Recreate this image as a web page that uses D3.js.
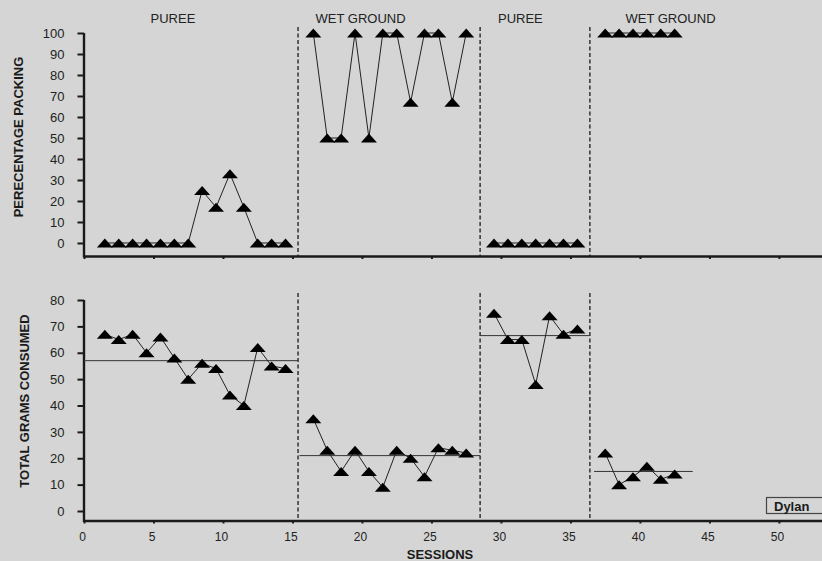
<!DOCTYPE html>
<html>
<head>
<meta charset="utf-8">
<script src="https://cdn.jsdelivr.net/npm/d3@7"></script>
<style>
  html, body { margin: 0; padding: 0; background: #d4d5d4; }
  svg { display: block; font-family: "Liberation Sans", Arial, sans-serif; }
</style>
</head>
<body>
<svg id="chart" width="822" height="561"></svg>
<script>
// phase info
const phaseNames = ["PUREE", "WET GROUND", "PUREE", "WET GROUND"];
const phaseLabelAt = [6.4, 19.9, 31.4, 42.2];
const phaseChanges = [15.4, 28.5, 36.4];

// sessions per phase (plotted at category centre)
const sessionsP1 = [1, 2, 3, 4, 5, 6, 7, 8, 9, 10, 11, 12, 13, 14];
const sessionsW1 = [16, 17, 18, 19, 20, 21, 22, 23, 24, 25, 26, 27];
const sessionsP2 = [29, 30, 31, 32, 33, 34, 35];
const sessionsW2 = [37, 38, 39, 40, 41, 42];

// percentage packing
const packingP1 = [0, 0, 0, 0, 0, 0, 0, 25, 17, 33, 17, 0, 0, 0];
const packingW1 = [100, 50, 50, 100, 50, 100, 100, 67, 100, 100, 67, 100];
const packingP2 = [0, 0, 0, 0, 0, 0, 0];
const packingW2 = [100, 100, 100, 100, 100, 100];

// total grams consumed
const gramsP1 = [67, 65, 67, 60, 66, 58, 50, 56, 54, 44, 40, 62, 55, 54];
const gramsW1 = [35, 23, 15, 23, 15, 9, 23, 20, 13, 24, 23, 22];
const gramsP2 = [75, 65, 65, 48, 74, 67, 69];
const gramsW2 = [22, 10, 13, 17, 12, 14];

// phase means of grams and the session span each mean line covers
const gramsMeans = [57, 21, 66.5, 15];
const meanFrom = [0, 15.5, 28.5, 36.7];
const meanTo = [15.4, 28.5, 36.4, 43.8];

const xTicks = [0, 5, 10, 15, 20, 25, 30, 35, 40, 45, 50];
const packingTicks = [0, 10, 20, 30, 40, 50, 60, 70, 80, 90, 100];
const gramsTicks = [0, 10, 20, 30, 40, 50, 60, 70, 80];

const svg = d3.select("#chart");
const ink = "#1a1a1a";

const x = d3.scaleLinear().domain([0, 53.1]).range([84, 822]);
const yTop = d3.scaleLinear().domain([-6.2, 100]).range([256, 33]);
const yBot = d3.scaleLinear().domain([-3.6, 80]).range([520.5, 300]);

const triangle = "M-8,4.5L0,-4.5L8,4.5Z";

function zip(sessions, values) {
  return sessions.map((s, i) => ({ s: s + 0.5, v: values[i] }));
}

function drawPanel(y, ticks, series, opts) {
  const g = svg.append("g");

  // phase change lines
  g.selectAll(".phase")
    .data(phaseChanges)
    .join("line")
    .attr("x1", d => x(d)).attr("x2", d => x(d))
    .attr("y1", opts.dashTop).attr("y2", y.range()[0])
    .attr("stroke", ink).attr("stroke-width", 1.3)
    .attr("stroke-dasharray", "4,2.5");

  // y axis
  const yAxis = g.append("g")
    .attr("transform", `translate(${x(0)},0)`)
    .call(d3.axisLeft(y).tickValues(ticks).tickSize(6.5).tickSizeOuter(0).tickPadding(13));
  yAxis.select(".domain").attr("stroke", ink).attr("stroke-width", 2.4)
    .attr("d", `M0,${y.range()[1]}V${y.range()[0] + 1.5}`);
  yAxis.selectAll(".tick line").attr("stroke", ink).attr("stroke-width", 2);
  yAxis.selectAll(".tick text").attr("font-size", 13).attr("fill", "#222")
    .attr("font-family", "Liberation Sans, Arial, sans-serif");

  // x axis
  const xAxis = g.append("g")
    .attr("transform", `translate(0,${y.range()[0]})`)
    .call(d3.axisBottom(x).tickValues(xTicks).tickSize(3).tickSizeOuter(0)
      .tickFormat(opts.showX ? d3.format("d") : ""));
  xAxis.select(".domain").attr("stroke", ink).attr("stroke-width", 2.4);
  xAxis.selectAll(".tick line").attr("stroke", ink).attr("stroke-width", 2);
  xAxis.selectAll(".tick text").attr("font-size", 12).attr("fill", "#222")
    .attr("font-family", "Liberation Sans, Arial, sans-serif")
    .attr("x", -2).attr("y", 12).attr("dy", "0.71em");

  // mean lines
  if (opts.means) {
    g.selectAll(".mean")
      .data(opts.means)
      .join("line")
      .attr("x1", (d, i) => x(meanFrom[i])).attr("x2", (d, i) => x(meanTo[i]))
      .attr("y1", d => y(d)).attr("y2", d => y(d))
      .attr("stroke", "#333").attr("stroke-width", 1);
  }

  const line = d3.line().x(d => x(d.s)).y(d => y(d.v));
  series.forEach(pts => {
    g.append("path").datum(pts)
      .attr("d", line).attr("fill", "none")
      .attr("stroke", "#222").attr("stroke-width", 1);
  });
  series.forEach(pts => {
    g.selectAll(null).data(pts).join("path")
      .attr("d", triangle)
      .attr("transform", d => `translate(${x(d.s)},${y(d.v)})`)
      .attr("fill", "#000");
  });

  // y title
  g.append("text")
    .attr("transform", `translate(${opts.titleX},${opts.titleY}) rotate(-90)`)
    .attr("text-anchor", "middle")
    .attr("font-size", 13).attr("font-weight", "bold").attr("fill", ink)
    .text(opts.title);
}

drawPanel(yTop, packingTicks,
  [zip(sessionsP1, packingP1), zip(sessionsW1, packingW1), zip(sessionsP2, packingP2), zip(sessionsW2, packingW2)],
  { dashTop: 27, showX: false, title: "PERECENTAGE PACKING", titleX: 23, titleY: 137 });

drawPanel(yBot, gramsTicks,
  [zip(sessionsP1, gramsP1), zip(sessionsW1, gramsW1), zip(sessionsP2, gramsP2), zip(sessionsW2, gramsW2)],
  { dashTop: 293, showX: true, means: gramsMeans, title: "TOTAL GRAMS CONSUMED", titleX: 29, titleY: 401 });

// phase labels
svg.selectAll(".phaseLabel")
  .data(phaseNames)
  .join("text")
  .attr("x", (d, i) => x(phaseLabelAt[i]))
  .attr("y", 23)
  .attr("text-anchor", "middle")
  .attr("font-size", 13).attr("fill", "#222")
  .text(d => d);

// x title
svg.append("text")
  .attr("x", 440).attr("y", 559)
  .attr("text-anchor", "middle")
  .attr("font-size", 13).attr("font-weight", "bold").attr("fill", ink)
  .text("SESSIONS");

// participant box
svg.append("rect")
  .attr("x", 766.5).attr("y", 497.5).attr("width", 70).attr("height", 16)
  .attr("fill", "none").attr("stroke", "#444").attr("stroke-width", 1.2);
svg.append("text")
  .attr("x", 774).attr("y", 511)
  .attr("font-size", 13).attr("font-weight", "bold").attr("fill", ink)
  .text("Dylan");
</script>
</body>
</html>
